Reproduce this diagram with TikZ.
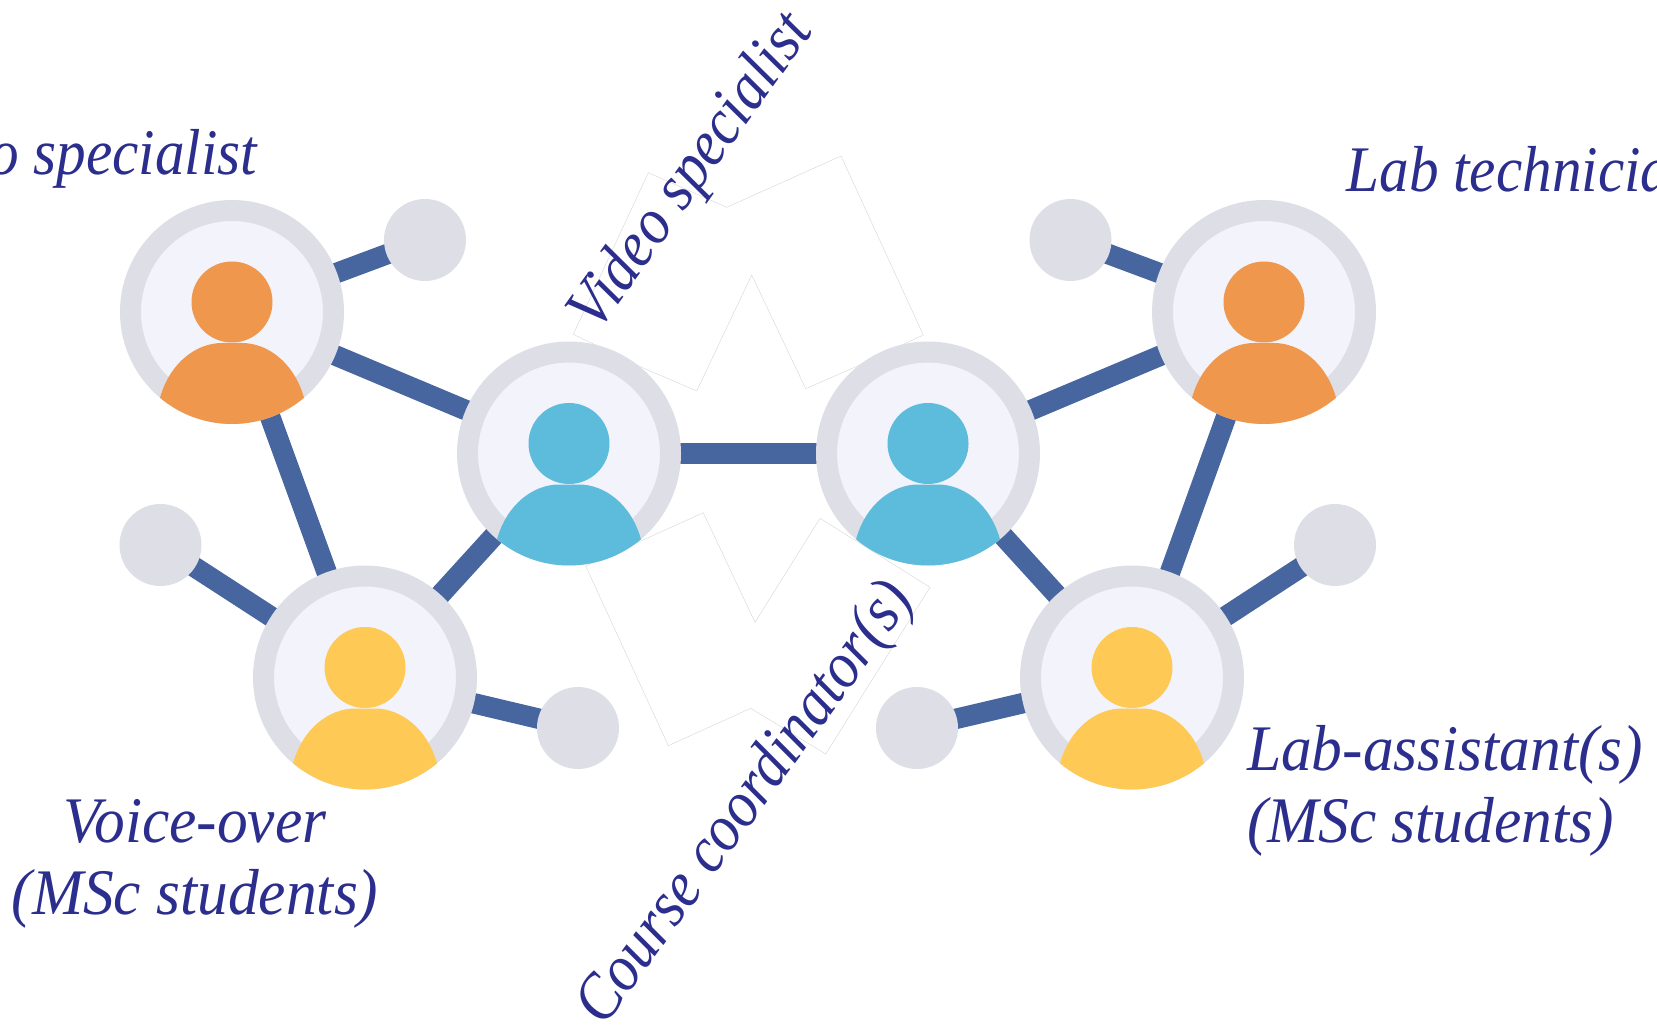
\documentclass[tikz,border=0pt]{standalone}
\usepackage{fontspec}
\newfontfamily\rolefont[FakeStretch=0.91]{Liberation Serif}
\newfontfamily\pairfont[FakeStretch=0.945]{Liberation Serif}
\usetikzlibrary{calc}
\usetikzlibrary{backgrounds}

\definecolor{ringgrey}{HTML}{DEDFE6}
\definecolor{ringfill}{HTML}{F2F3FB}
\definecolor{linkblue}{HTML}{47669F}
\definecolor{headorange}{HTML}{EF974C}
\definecolor{headblue}{HTML}{5DBBDB}
\definecolor{headyellow}{HTML}{FFC955}
\definecolor{labelblue}{HTML}{2B2E8C}

\tikzset{
	ring/.style={circle, draw=ringgrey, fill=ringfill, line width=0.21cm, minimum size=2.03cm, inner sep=0pt},
	dot/.style={circle, fill=ringgrey, minimum size=0.82cm, inner sep=0pt, outer sep=0pt},
	link/.style={draw=linkblue, line width=0.205cm, shorten <=-1.5mm, shorten >=-1.5mm},
	role/.style={text=labelblue, font=\rolefont\itshape\fontsize{18.5}{20.3}\selectfont, inner sep=0pt},
	pair/.style={text=labelblue, font=\pairfont\itshape\fontsize{18.5}{20.6}\selectfont, inner sep=0pt},
	ghost/.style={draw=black!18, line width=0.1pt}
}

\newcommand{\person}[2]{
	\fill[#2, shift={(#1)}] (0,0.10) circle (0.405);
	\fill[#2, shift={(#1)}] (-130:1.12) .. controls (-0.62,-0.50) and (-0.35,-0.31) .. (-0.10,-0.31) -- (0.10,-0.31) .. controls (0.35,-0.31) and (0.62,-0.50) .. (-50:1.12) arc[start angle=-50, end angle=-130, radius=1.12] -- cycle;
}

\begin{document}
\begin{tikzpicture}[]
		\useasboundingbox (0,0) rectangle (16.57,10.27);
		\clip (0,0) rectangle (16.57,10.27);
		\draw[ghost] (5.733,6.927) -- (6.483,8.543) -- (7.267,8.197) -- (8.41,8.71) -- (9.233,6.92) -- (8.56,6.603) -- (8.057,6.383) -- (7.517,7.52) -- (6.967,6.36) -- (6.417,6.597) -- cycle;
		\draw[ghost] (7.033,5.143) -- (7.55,4.047) -- (8.2,5.087) -- (9.3,4.397) -- (8.257,2.73) -- (7.507,3.187) -- (6.683,2.813) -- (5.857,4.61) -- cycle;
		\node[ring] (orangeL) at (2.32,7.15) {};
		\node[ring] (blueL) at (5.69,5.735) {};
		\node[ring] (blueR) at (9.28,5.735) {};
		\node[ring] (orangeR) at (12.64,7.15) {};
		\node[ring] (yellowL) at (3.65,3.495) {};
		\node[ring] (yellowR) at (11.32,3.495) {};
		\node[dot] (dotA) at (4.25,7.87) {};
		\node[dot] (dotB) at (10.705,7.87) {};
		\node[dot] (dotC) at (1.605,4.82) {};
		\node[dot] (dotD) at (13.35,4.82) {};
		\node[dot] (dotE) at (5.78,2.99) {};
		\node[dot] (dotF) at (9.17,2.99) {};
		\begin{pgfonlayer}{background}
			\draw[link] (orangeL) -- (dotA);
			\draw[link] (orangeL) -- (blueL);
			\draw[link] (orangeL) -- (yellowL);
			\draw[link] (dotC) -- (yellowL);
			\draw[link] (blueL) -- (yellowL);
			\draw[link] (yellowL) -- (dotE);
			\draw[link] (blueL) -- (blueR);
			\draw[link] (orangeR) -- (dotB);
			\draw[link] (orangeR) -- (blueR);
			\draw[link] (orangeR) -- (yellowR);
			\draw[link] (dotD) -- (yellowR);
			\draw[link] (blueR) -- (yellowR);
			\draw[link] (yellowR) -- (dotF);
		\end{pgfonlayer}
		\person{orangeL}{headorange}
		\person{orangeR}{headorange}
		\person{blueL}{headblue}
		\person{blueR}{headblue}
		\person{yellowL}{headyellow}
		\person{yellowR}{headyellow}
		\node[role, anchor=east] (audio) at (2.58,8.68) {Audio specialist};
		\node[role, anchor=west] (lab) at (13.46,8.58) {Lab technician};
		\node[role, rotate=54.5] (video) at (6.93,8.54) {Video specialist};
		\node[role, rotate=54] (course) at (7.47,2.23) {Course coordinator(s)};
		\node[pair, align=center] (voice) at (1.95,1.63) {Voice-over\\(MSc students)};
		\node[pair, align=left] (assist) at (14.45,2.36) {Lab-assistant(s)\\(MSc students)};
	\end{tikzpicture}
\end{document}
